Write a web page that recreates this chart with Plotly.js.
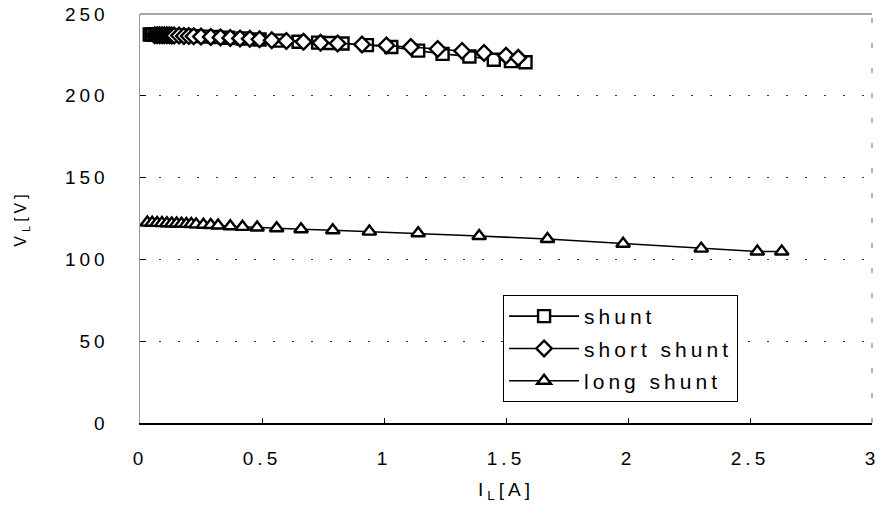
<!DOCTYPE html>
<html>
<head>
<meta charset="utf-8">
<script src="https://cdn.plot.ly/plotly-3.0.1.min.js"></script>
<style>
  html, body { margin: 0; padding: 0; background: #fff; }
  #chart { width: 881px; height: 511px; }
  svg text { letter-spacing: 4px; }
</style>
</head>
<body>
<div id="chart"></div>
<script>
// Shunt generator (squares)
const shuntI = [0.04, 0.05, 0.06, 0.07, 0.08, 0.09, 0.10, 0.11, 0.12, 0.14, 0.16, 0.18, 0.20, 0.23, 0.27, 0.31, 0.36, 0.42, 0.49, 0.57, 0.65, 0.73, 0.78, 0.83, 0.93, 1.03, 1.14, 1.24, 1.35, 1.45, 1.52, 1.58];
const shuntV = [237.5, 237.5, 237.4, 237.4, 237.3, 237.3, 237.2, 237.2, 237.1, 237.0, 236.9, 236.8, 236.7, 236.5, 236.2, 235.9, 235.5, 235.0, 234.4, 233.7, 233.0, 232.5, 232.3, 232.0, 231.0, 229.8, 227.6, 225.6, 224.0, 222.0, 221.2, 220.5];

// Short shunt (diamonds)
const shortI = [0.06, 0.07, 0.08, 0.09, 0.10, 0.11, 0.12, 0.13, 0.14, 0.16, 0.18, 0.20, 0.22, 0.25, 0.29, 0.33, 0.37, 0.41, 0.45, 0.49, 0.54, 0.60, 0.67, 0.74, 0.81, 0.91, 1.01, 1.11, 1.22, 1.32, 1.41, 1.50, 1.55];
const shortV = [237.0, 237.0, 237.0, 237.0, 237.0, 237.0, 237.0, 236.9, 236.8, 236.8, 236.6, 236.5, 236.4, 236.2, 236.0, 235.7, 235.4, 235.1, 234.8, 234.5, 234.0, 233.5, 233.0, 232.4, 232.0, 231.4, 230.8, 229.8, 228.6, 227.4, 226.2, 224.5, 223.2];

// Long shunt (triangles)
const longI = [0.03, 0.05, 0.07, 0.09, 0.11, 0.13, 0.15, 0.17, 0.19, 0.21, 0.23, 0.26, 0.29, 0.32, 0.37, 0.42, 0.48, 0.56, 0.66, 0.79, 0.94, 1.14, 1.39, 1.67, 1.98, 2.30, 2.53, 2.63];
const longV = [122.5, 122.4, 122.3, 122.2, 122.1, 122.0, 121.9, 121.8, 121.7, 121.6, 121.4, 121.2, 121.0, 120.7, 120.3, 119.9, 119.5, 119.0, 118.4, 117.8, 117.0, 116.0, 114.3, 112.5, 109.6, 106.6, 104.8, 104.8];

const seriesNames = ['shunt', 'short shunt', 'long shunt'];
const xTicks = [0, 0.5, 1, 1.5, 2, 2.5, 3];
const yTicks = [0, 50, 100, 150, 200, 250];

const fontFam = '"Liberation Sans", Arial, sans-serif';

function mk(x, y, name, symbol, group) {
  return {
    x: x, y: y, name: name, type: 'scatter', mode: 'lines+markers',
    legendgroup: group,
    line: { color: '#000', width: 1.6 },
    marker: { symbol: symbol, size: 12, color: '#fff', line: { color: '#000', width: 2.4 } },
    cliponaxis: false
  };
}

const data = [
  mk(shuntI, shuntV, seriesNames[0], 'square', 'g1'),
  mk(shortI, shortV, seriesNames[1], 'diamond', 'g2'),
  mk(longI, longV, seriesNames[2], 'triangle-up', 'g3')
];

const layout = {
  width: 881, height: 511,
  margin: { l: 140, r: 9, t: 14, b: 88 },
  paper_bgcolor: '#fff', plot_bgcolor: '#fff',
  font: { family: fontFam, color: '#000', size: 19 },
  showlegend: true,
  legend: {
    x: 0.496, y: 0.313, xanchor: 'left', yanchor: 'top',
    bgcolor: '#fff', bordercolor: '#000', borderwidth: 1,
    font: { family: fontFam, size: 21, color: '#000' },
    traceorder: 'grouped', tracegroupgap: 2, itemwidth: 70
  },
  xaxis: {
    range: [0, 3], tickvals: xTicks, ticktext: xTicks.map(String),
    showgrid: false, zeroline: false,
    showline: true, linecolor: '#000', linewidth: 1.5,
    ticks: 'inside', ticklen: 5, tickcolor: '#000',
    ticklabelstandoff: 18,
    tickfont: { family: fontFam, size: 19, color: '#000' },
    title: { text: 'I<sub>L</sub>[A]', font: { family: fontFam, size: 19, color: '#000' }, standoff: 14 }
  },
  yaxis: {
    range: [0, 250], tickvals: yTicks, ticktext: yTicks.map(String),
    showgrid: true, gridcolor: '#333', gridwidth: 1, griddash: '2px,17px',
    zeroline: false,
    showline: true, linecolor: '#999', linewidth: 1.5,
    ticks: 'inside', ticklen: 6, tickcolor: '#000',
    ticklabelstandoff: 26,
    tickfont: { family: fontFam, size: 19, color: '#000' },
    title: { text: 'V<sub>L</sub>[V]', font: { family: fontFam, size: 16, color: '#000' }, standoff: 34 }
  },
  shapes: [
    { type: 'line', xref: 'paper', yref: 'paper', x0: 0, x1: 1, y0: 1, y1: 1, line: { color: '#888', width: 1.5 } },
    { type: 'line', xref: 'paper', yref: 'paper', x0: 1, x1: 1, y0: 0, y1: 1, line: { color: '#888', width: 1.2, dash: '5px,20px' } }
  ]
};

Plotly.newPlot('chart', data, layout, { displayModeBar: false, staticPlot: true });
</script>
</body>
</html>
